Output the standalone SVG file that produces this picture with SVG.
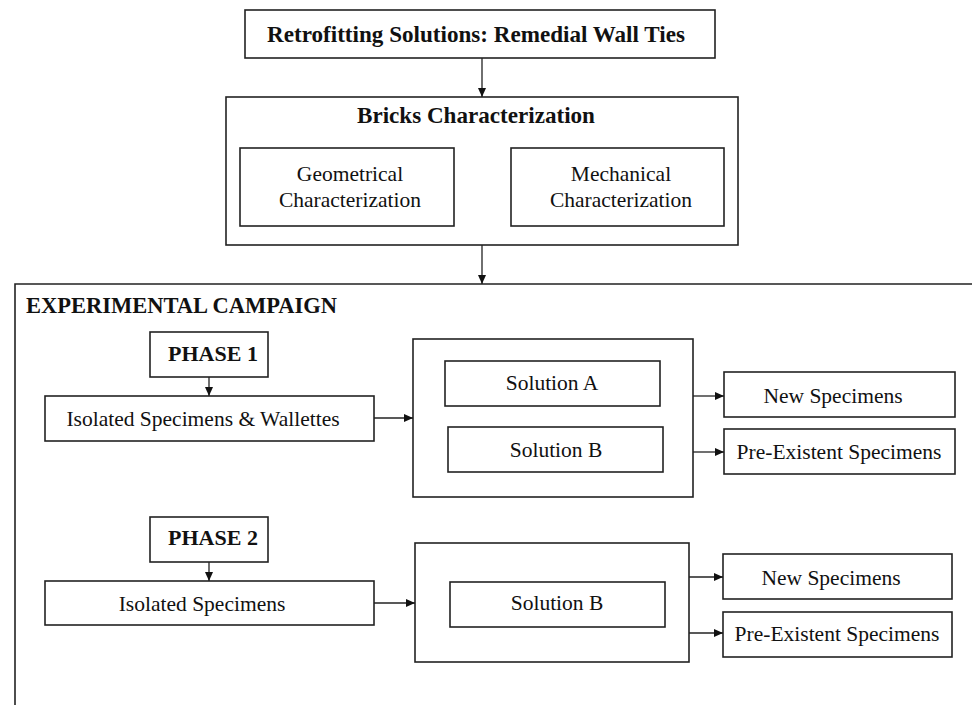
<svg xmlns="http://www.w3.org/2000/svg" width="972" height="705" viewBox="0 0 972 705">
<style>
rect.box{fill:#fff;stroke:#222;stroke-width:1.6}
.frame{fill:none;stroke:#222;stroke-width:1.6}
text{font-family:"Liberation Serif","Times New Roman",serif;fill:#111;font-size:21.5px}
.b{font-weight:bold;font-size:22px}
.bl{font-size:23.1px}
.m{text-anchor:middle}
#connectors line{stroke:#222;stroke-width:1.3;marker-end:url(#ah)}
</style>
<defs>
<marker id="ah" markerUnits="userSpaceOnUse" markerWidth="9" markerHeight="8" refX="9" refY="4" orient="auto">
<path d="M0,0 L9,4 L0,8 z" fill="#111"/>
</marker>
</defs>
<rect width="972" height="705" fill="#fff"/>
<g id="retrofitting">
<rect class="box" x="245" y="10" width="470" height="48"/>
<text class="b bl m" x="476" y="42">Retrofitting Solutions: Remedial Wall Ties</text>
</g>
<g id="bricks">
<rect class="box" x="226" y="97" width="512" height="148"/>
<text class="b bl m" x="476" y="123">Bricks Characterization</text>
</g>
<g id="geometrical">
<rect class="box" x="240" y="148" width="214" height="78"/>
<text class="m" x="350" y="181">Geometrical</text>
<text class="m" x="350" y="207">Characterization</text>
</g>
<g id="mechanical">
<rect class="box" x="511" y="148" width="213" height="78"/>
<text class="m" x="621" y="181">Mechanical</text>
<text class="m" x="621" y="207">Characterization</text>
</g>
<g id="campaign">
<path class="frame" d="M15,706 V284 H973"/>
<text class="b" x="26" y="313" style="font-size:22.5px">EXPERIMENTAL CAMPAIGN</text>
</g>
<g id="phase1">
<rect class="box" x="150" y="332" width="118" height="45"/>
<text class="b m" x="213" y="361">PHASE 1</text>
</g>
<g id="isolated1">
<rect class="box" x="45" y="396" width="329" height="45"/>
<text class="m" x="203" y="426">Isolated Specimens &amp; Wallettes</text>
</g>
<g id="solutions1">
<rect class="box" x="413" y="339" width="280" height="158"/>
</g>
<g id="solutionA1">
<rect class="box" x="445" y="361" width="215" height="45"/>
<text class="m" x="552" y="390">Solution A</text>
</g>
<g id="solutionB1">
<rect class="box" x="448" y="427" width="215" height="45"/>
<text class="m" x="556" y="457">Solution B</text>
</g>
<g id="new1">
<rect class="box" x="724" y="372" width="231" height="45"/>
<text class="m" x="833" y="403">New Specimens</text>
</g>
<g id="pre1">
<rect class="box" x="724" y="429" width="231" height="45"/>
<text class="m" x="839" y="459">Pre-Existent Specimens</text>
</g>
<g id="phase2">
<rect class="box" x="150" y="517" width="118" height="45"/>
<text class="b m" x="213" y="545">PHASE 2</text>
</g>
<g id="isolated2">
<rect class="box" x="45" y="581" width="329" height="44"/>
<text class="m" x="202" y="611">Isolated Specimens</text>
</g>
<g id="solutions2">
<rect class="box" x="415" y="543" width="274" height="119"/>
</g>
<g id="solutionB2">
<rect class="box" x="450" y="582" width="215" height="45"/>
<text class="m" x="557" y="610">Solution B</text>
</g>
<g id="new2">
<rect class="box" x="723" y="554" width="229" height="45"/>
<text class="m" x="831" y="585">New Specimens</text>
</g>
<g id="pre2">
<rect class="box" x="723" y="612" width="229" height="45"/>
<text class="m" x="837" y="641">Pre-Existent Specimens</text>
</g>
<g id="connectors">
<line x1="482" y1="58" x2="482" y2="97"/>
<line x1="482" y1="245" x2="482" y2="284"/>
<line x1="209" y1="377" x2="209" y2="396"/>
<line x1="374" y1="418" x2="413" y2="418"/>
<line x1="693" y1="396" x2="724" y2="396"/>
<line x1="693" y1="452" x2="724" y2="452"/>
<line x1="209" y1="562" x2="209" y2="581"/>
<line x1="374" y1="603" x2="415" y2="603"/>
<line x1="689" y1="577" x2="723" y2="577"/>
<line x1="689" y1="633" x2="723" y2="633"/>
</g>
</svg>
